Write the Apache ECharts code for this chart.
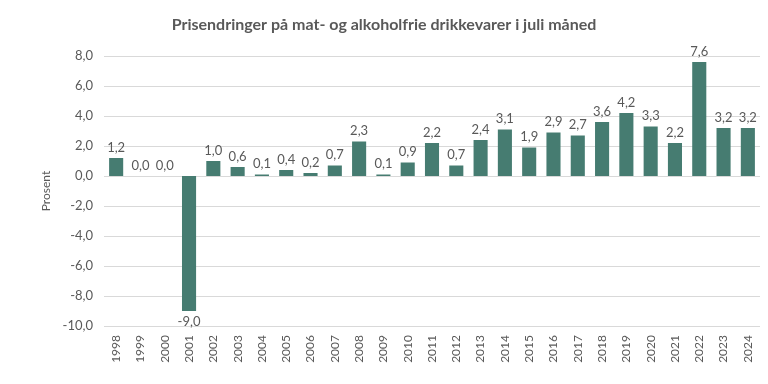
<!DOCTYPE html>
<html><head><meta charset="utf-8">
<script src="https://cdn.jsdelivr.net/npm/echarts@6/dist/echarts.min.js"></script>
<style>html,body{margin:0;padding:0;background:#fff}#c{width:768px;height:384px}</style>
</head><body><div id="c"></div>
<script>
const title = 'Prisendringer på mat- og alkoholfrie drikkevarer i juli måned';
const years = ['1998','1999','2000','2001','2002','2003','2004','2005','2006','2007','2008','2009','2010','2011','2012','2013','2014','2015','2016','2017','2018','2019','2020','2021','2022','2023','2024'];
const values = [1.2,0.0,0.0,-9.0,1.0,0.6,0.1,0.4,0.2,0.7,2.3,0.1,0.9,2.2,0.7,2.4,3.1,1.9,2.9,2.7,3.6,4.2,3.3,2.2,7.6,3.2,3.2];
const yAxisName = 'Prosent';
const fmt = v => v.toFixed(1).replace('.', ',');
const font = 'Lato, "Open Sans", sans-serif';
const chart = echarts.init(document.getElementById('c'), null, {renderer:'canvas'});
chart.setOption({
  animation:false,
  title:{text:title,left:'center',top:12,textStyle:{fontFamily:font,fontSize:16,fontWeight:'bold',color:'#595959'}},
  grid:{left:104,right:8,top:56,bottom:58,containLabel:false},
  xAxis:{type:'category',data:years,position:'bottom',
    axisLine:{show:false,onZero:false},axisTick:{show:false},
    axisLabel:{rotate:90,fontFamily:font,fontSize:12,color:'#595959',margin:9}},
  yAxis:{type:'value',min:-10,max:8,interval:2,name:yAxisName,nameLocation:'middle',nameGap:52,
    nameTextStyle:{fontFamily:font,fontSize:12,color:'#595959'},
    axisLine:{show:false},axisTick:{show:false},
    splitLine:{lineStyle:{color:'#d9d9d9',width:1}},
    axisLabel:{formatter:v=>fmt(v),fontFamily:font,fontSize:13,color:'#595959',margin:11}},
  series:[{type:'bar',barCategoryGap:'42%',
    data:values.map(v=>({value:v,label:{position:v<0?'bottom':'top'}})),
    itemStyle:{color:'#467c71'},
    label:{show:true,formatter:p=>fmt(p.value),fontFamily:font,fontSize:13,color:'#595959',distance:4}}]
});
</script></body></html>
